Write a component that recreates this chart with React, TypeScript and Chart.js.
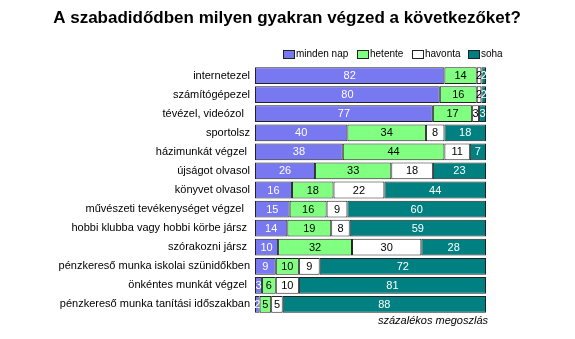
import React, { useEffect, useRef } from "react";
import { Chart, registerables } from "chart.js";

Chart.register(...registerables);

const categories = [
  "internetezel",
  "számítógépezel",
  "tévézel, videózol  ",
  "sportolsz",
  "házimunkát végzel ",
  "újságot olvasol",
  "könyvet olvasol",
  "művészeti tevékenységet végzel  ",
  "hobbi klubba vagy hobbi körbe jársz ",
  "szórakozni jársz ",
  "pénzkereső munka iskolai szünidőkben",
  "önkéntes munkát végzel ",
  "pénzkereső munka tanítási időszakban",
];

const seriesNames = ["minden nap", "hetente", "havonta", "soha"];
const mindenNap = [82, 80, 77, 40, 38, 26, 16, 15, 14, 10, 9, 3, 2];
const hetente = [14, 16, 17, 34, 44, 33, 18, 16, 19, 32, 10, 6, 5];
const havonta = [2, 2, 3, 8, 11, 18, 22, 9, 8, 30, 9, 10, 5];
const soha = [2, 2, 3, 18, 7, 23, 44, 60, 59, 28, 72, 81, 88];

const fillColors = ["#7878f0", "#80ff80", "#ffffff", "#008080"];
const labelColors = ["#ffffff", "#000000", "#000000", "#ffffff"];

const titleText = "A szabadidődben milyen gyakran végzed a következőket?";
const footText = "százalékos megoszlás";

const extrasPlugin = {
  id: "extras",
  afterDatasetsDraw(chart: any) {
    const ctx = chart.ctx;
    ctx.save();
    ctx.font = "11px Arial, 'Liberation Sans', sans-serif";
    ctx.textAlign = "center";
    ctx.textBaseline = "middle";
    chart.data.datasets.forEach((ds: any, di: number) => {
      const meta = chart.getDatasetMeta(di);
      meta.data.forEach((el: any, i: number) => {
        const v = ds.data[i];
        const cx = (el.x + el.base) / 2;
        ctx.fillStyle = labelColors[di];
        ctx.fillText(String(v), cx, el.y + 0.5);
      });
    });
    ctx.restore();
  },
  afterDraw(chart: any) {
    const ctx = chart.ctx;
    ctx.save();
    // title
    ctx.fillStyle = "#000";
    ctx.font = "bold 17px Arial, 'Liberation Sans', sans-serif";
    ctx.textAlign = "center";
    ctx.textBaseline = "middle";
    ctx.fillText(titleText, 287, 18);
    // legend
    ctx.font = "10px Arial, 'Liberation Sans', sans-serif";
    ctx.textAlign = "left";
    const legendX = [283, 357, 412, 468];
    chart.data.datasets.forEach((ds: any, di: number) => {
      const x = legendX[di];
      ctx.fillStyle = fillColors[di];
      ctx.fillRect(x, 50, 11, 8);
      ctx.strokeStyle = "#222";
      ctx.lineWidth = 1;
      ctx.strokeRect(x + 0.5, 50.5, 11, 8);
      ctx.fillStyle = "#000";
      ctx.fillText(ds.label, x + 13, 54.5);
    });
    // footnote
    ctx.font = "italic 11px Arial, 'Liberation Sans', sans-serif";
    ctx.textAlign = "left";
    ctx.fillText(footText, 378, 321);
    ctx.restore();
  },
};

export default function App() {
  const ref = useRef<HTMLCanvasElement | null>(null);
  useEffect(() => {
    if (!ref.current) return;
    const values = [mindenNap, hetente, havonta, soha];
    const chart = new Chart(ref.current, {
      type: "bar",
      data: {
        labels: categories,
        datasets: seriesNames.map((name, i) => ({
          label: name,
          data: values[i],
          backgroundColor: fillColors[i],
          borderColor: "#222222",
          borderWidth: 1,
          borderSkipped: false,
          barPercentage: 0.88,
          categoryPercentage: 1,
        })),
      },
      options: {
        indexAxis: "y",
        responsive: false,
        animation: false,
        events: [],
        layout: { padding: { top: 66, bottom: 25, left: 0, right: 89 } },
        plugins: {
          legend: { display: false },
          title: { display: false },
          tooltip: { enabled: false },
        },
        scales: {
          x: {
            stacked: true,
            min: 0,
            max: 100,
            display: false,
          },
          y: {
            stacked: true,
            grid: { display: false, drawTicks: false },
            border: { display: false },
            ticks: {
              color: "#000",
              padding: 5,
              autoSkip: false,
              font: { family: "Arial, 'Liberation Sans', sans-serif", size: 11 },
            },
            afterFit(scale: any) {
              scale.width = 255;
            },
          },
        },
      },
      plugins: [extrasPlugin],
    });
    return () => chart.destroy();
  }, []);
  return (
    <div style={{ position: "absolute", left: 0, top: 0, width: 575, height: 339, background: "#fff" }}>
      <canvas ref={ref} width={575} height={339} />
    </div>
  );
}
